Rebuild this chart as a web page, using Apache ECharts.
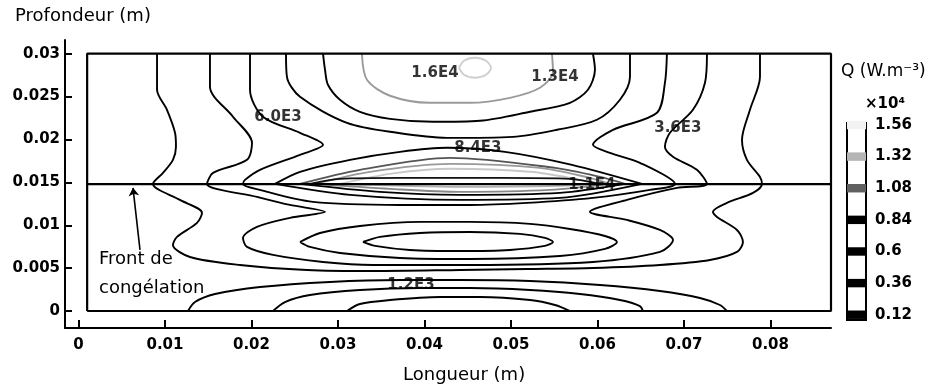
<!DOCTYPE html>
<html>
<head>
<meta charset="UTF-8">
<title>Q contours</title>
<script src="https://cdn.jsdelivr.net/npm/echarts@6/dist/echarts.min.js"></script>
<style>html,body{margin:0;padding:0;background:#fff}</style>
</head>
<body>
<div id="chart" style="width:929px;height:392px"></div>
<script>
// lengths are kept in mm, the axes print them in m
const xTicks = [0, 10, 20, 30, 40, 50, 60, 70, 80];
const yTicks = [0, 5, 10, 15, 20, 25, 30];
const barLevels = [0.12, 0.36, 0.6, 0.84, 1.08, 1.32, 1.56];
const barColors = ['#000', '#000', '#000', '#000', '#606060', '#b4b4b4', '#f2f2f2'];

const domainBox = [[1, 0], [87, 0], [87, 30], [1, 30], [1, 0]];
const frontLine = [[1, 14.8], [87, 14.8]];
const arrow = [[7.11, 7.12], [6.30, 14.36]];

// contour lines [x mm, y mm]
const loop1 = [[9.08,30],[9.08,25.8],[10.23,23.46],[11.16,20.78],[11.27,19.14],[10.92,17.63],[9.77,16.11],[8.61,14.82],
  [11.73,12.96],[14.28,11.44],[13.70,10.27],[11.39,8.64],[10.92,7.70],[12.89,6.30],[18.67,5.37],[26.42,4.79],[34.05,4.67],
  [44.10,4.79],[51.85,4.90],[59.48,5.02],[67.22,5.37],[73.01,5.95],[76.13,6.89],[76.82,8.05],[76.13,9.45],[73.82,10.97],
  [73.35,11.56],[74.97,12.61],[77.98,13.77],[79.02,14.82],[78.79,15.64],[77.28,17.63],[76.71,19.96],[77.63,23.46],[78.79,27.31],[78.79,30]];
const loop2 = [[15.20,30],[15.20,26.15],[17.86,22.65],[20.06,19.61],[19.48,17.63],[15.55,16.11],[14.86,14.82],
  [20.64,13.31],[24.45,12.37],[28.50,11.56],[24.45,10.86],[20.64,9.81],[19.02,8.52],[19.48,7.47],[22.49,6.54],[28.27,5.72],
  [34.05,5.37],[45.26,5.37],[59.48,5.72],[67.22,6.89],[68.73,8.29],[67.22,9.45],[63.41,10.62],[59.13,11.56],[63.41,12.96],
  [69.19,14.36],[72.66,14.82],[71.50,16.46],[68.73,17.98],[67.80,19.14],[68.38,20.78],[71.04,23.46],[72.43,26.61],[72.66,30]];
const loop3 = [[19.83,30],[19.83,25.8],[21.33,22.65],[25.61,20.78],[28.27,19.38],[25.61,18.21],[20.98,16.46],[19.25,15.29],[19.02,14.82],
  [20.98,14.12],[27.11,12.72],[37.17,12.37],[45.26,12.37],[51.85,12.61],[59.48,13.19],[66.07,14.12],[68.96,14.82],
  [64.91,17.28],[61.45,18.44],[59.48,19.38],[61.79,21.13],[66.88,23.11],[67.80,26.61],[68.03,30]];
const top6000 = [[23.99,30],[24.10,27.31],[25.61,24.98],[31.04,21.94],[36.82,20.78],[42.60,20.19],[50.23,20.31],[55.32,21.13],
  [59.94,22.30],[62.60,24.63],[63.76,27.31],[63.76,30]];
const top7200 = [[28.27,30],[28.50,28.13],[28.84,26.38],[30.23,24.63],[32.54,23.23],[36.01,22.41],[40.98,22.06],[46.42,22.18],
  [52.20,23.23],[56.82,24.28],[58.90,25.80],[59.71,28.13],[59.48,30]];
const top16000 = [[32.77,30],[33.35,26.96],[36.01,25.10],[40.64,24.28],[45.26,24.28],[49.88,24.86],[53.35,26.03],[54.86,27.90],[54.74,30]];
const topCore = [[43.99,28.36],[44.57,29.18],[45.84,29.53],[47.11,29.18],[47.69,28.36],[47.11,27.55],[45.84,27.20],[44.57,27.55],[43.99,28.36]];
const lensA = [[22.72,14.82],[25.61,16.23],[31.39,17.63],[37.17,18.56],[42.60,19.03],[49.31,18.56],[57.05,17.04],[65.14,14.82]];
const lensB = [[25.61,14.82],[32.54,16.46],[42.95,17.86],[55.09,16.69],[60.29,15.64],[63.18,14.82]];
const lensC = [[27.34,14.82],[33.70,16.23],[42.95,17.16],[53.35,16.69],[59.13,15.52],[61.45,14.82]];
const lensD = [[26.76,14.82],[30.23,15.41],[37.17,15.52],[48.73,15.52],[56.82,15.41],[60.29,14.82]];
const lensE = [[30.23,14.82],[36.01,15.99],[42.95,16.58],[52.20,16.23],[57.98,15.29],[59.71,14.82]];
const lowA = [[22.72,14.82],[31.39,13.54],[44.10,12.96],[55.66,13.19],[65.14,14.82]];
const lowB = [[25.61,14.82],[34.86,13.89],[44.10,13.54],[55.66,13.77],[63.18,14.82]];
const lowC = [[27.34,14.82],[36.01,14.24],[44.10,13.89],[54.51,14.12],[61.45,14.82]];
const lowD = [[30.23,14.82],[44.10,14.47],[55.66,14.59],[59.71,14.82]];
const ring2 = [[25.61,8.05],[27.92,9.10],[32.54,9.92],[39.48,10.39],[45.26,10.39],[52.20,10.16],[56.82,9.57],[60.87,8.75],
  [62.25,8.05],[60.87,7.24],[55.66,6.42],[45.26,6.07],[37.17,6.19],[30.23,6.77],[26.76,7.47],[25.61,8.05]];
const ring1 = [[32.89,8.05],[34.86,8.64],[39.48,9.10],[45.26,9.22],[51.04,8.99],[53.93,8.52],[54.86,8.05],[53.93,7.59],
  [49.88,7.12],[44.10,7.00],[38.32,7.12],[34.28,7.59],[32.89,8.05]];
const base1 = [[12.66,0],[13.47,1.05],[15.78,1.98],[20.98,2.80],[29.08,3.39],[37.17,3.62],[44.10,3.62],[52.20,3.50],
  [60.29,3.03],[67.22,2.33],[71.85,1.52],[74.16,0.70],[74.97,0]];
const base2 = [[22.49,0],[23.87,1.05],[26.76,1.87],[32.54,2.45],[39.48,2.68],[45.26,2.68],[52.20,2.45],[57.98,1.98],
  [62.60,1.28],[64.91,0.58],[65.26,0]];
const base3 = [[31.04,0],[32.54,0.82],[36.01,1.28],[41.79,1.63],[46.42,1.63],[52.20,1.28],[55.09,0.70],[56.82,0]];

const contourLabels = [
  ['1.6E4', 41.21, 27.78], ['1.3E4', 55.09, 27.31], ['6.0E3', 23.06, 22.65], ['8.4E3', 46.18, 19.03],
  ['3.6E3', 69.29, 21.36], ['1.1E4', 59.36, 14.71], ['1.2E3', 38.44, 3.03]
];

const contours = [
  [loop1, '#000'], [loop2, '#000'], [loop3, '#000'], [top6000, '#000'], [top7200, '#000'],
  [top16000, '#9a9a9a'], [topCore, '#cfcfcf'],
  [lensA, '#000'], [lensB, '#555'], [lensC, '#999'], [lensE, '#c8c8c8'], [lensD, '#111'],
  [lowA, '#000'], [lowB, '#000'], [lowC, '#888'], [lowD, '#b0b0b0'],
  [ring2, '#000'], [ring1, '#000'], [base1, '#000'], [base2, '#000'], [base3, '#000']
];

const toMetre = v => String(parseFloat((v / 1000).toFixed(4)));
const tickFont = { fontFamily: 'DejaVu Sans', fontWeight: 'bold', fontSize: 15, color: '#000' };

let myChart = echarts.init(document.getElementById('chart'));

let series = contours.map(c => ({
  type: 'line', data: c[0], symbol: 'none', smooth: 0.3, silent: true, z: 2,
  lineStyle: { color: c[1], width: 1.9 }
}));
series.push({
  type: 'line', data: domainBox, symbol: 'none', silent: true, z: 4,
  lineStyle: { color: '#000', width: 2.2 }
});
series.push({
  type: 'line', data: frontLine, symbol: 'none', silent: true, z: 4,
  lineStyle: { color: '#000', width: 2.2 }
});
series.push({
  type: 'lines', coordinateSystem: 'cartesian2d', silent: true, z: 5,
  symbol: ['none', 'arrow'], symbolSize: 8,
  data: [{ coords: arrow }],
  lineStyle: { color: '#000', width: 1.6, opacity: 1 }
});
series.push({
  type: 'scatter', symbolSize: 0, silent: true, z: 6,
  data: contourLabels.map(l => ({ name: l[0], value: [l[1], l[2]] })),
  label: { show: true, position: 'inside', formatter: '{b}', fontFamily: 'DejaVu Sans', fontWeight: 'bold', fontSize: 15, color: '#000' }
});
// colour bar bands
series.push({
  type: 'custom', xAxisIndex: 1, yAxisIndex: 1, silent: true, z: 5,
  data: barLevels.map(v => [0, v]),
  renderItem: (params, api) => {
    const lv = api.value(1);
    const p0 = api.coord([0, lv + 0.032]);
    const p1 = api.coord([1, lv - 0.032]);
    return {
      type: 'rect',
      shape: { x: p0[0], y: p0[1], width: p1[0] - p0[0], height: p1[1] - p0[1] },
      style: { fill: barColors[params.dataIndex], stroke: null }
    };
  }
});

myChart.setOption({
  animation: false,
  grid: [
    { left: 65, right: 98, top: 40, bottom: 64 },
    { left: 847, width: 19, top: 123, bottom: 72, show: true, borderColor: '#000', borderWidth: 2, backgroundColor: '#fff' }
  ],
  xAxis: [
    {
      type: 'value', min: -1.56, max: 87, gridIndex: 0,
      splitLine: { show: false },
      axisLine: { onZero: false, lineStyle: { color: '#000', width: 2 } },
      axisTick: { customValues: xTicks, inside: true, length: 8, lineStyle: { color: '#000', width: 2 } },
      axisLabel: Object.assign({ customValues: xTicks, margin: 10, formatter: toMetre }, tickFont)
    },
    { type: 'value', min: 0, max: 1, gridIndex: 1, show: false }
  ],
  yAxis: [
    {
      type: 'value', min: -1.98, max: 31.6, gridIndex: 0,
      splitLine: { show: false },
      axisLine: { onZero: false, lineStyle: { color: '#000', width: 2 } },
      axisTick: { customValues: yTicks, inside: true, length: 7, lineStyle: { color: '#000', width: 2 } },
      axisLabel: Object.assign({ customValues: yTicks, margin: 5, formatter: toMetre }, tickFont)
    },
    {
      type: 'value', min: 0.08, max: 1.575, gridIndex: 1, position: 'right',
      splitLine: { show: false }, axisLine: { show: false }, axisTick: { show: false },
      axisLabel: Object.assign({ customValues: barLevels, margin: 9 }, tickFont)
    }
  ],
  graphic: [
    { type: 'text', left: 15, top: 7, style: { text: 'Profondeur (m)', font: '18px "DejaVu Sans"', fill: '#000' } },
    { type: 'text', left: 403, top: 366, style: { text: 'Longueur (m)', font: '18px "DejaVu Sans"', fill: '#000' } },
    { type: 'text', left: 99, top: 250, style: { text: 'Front de', font: '18px "DejaVu Sans"', fill: '#000' } },
    { type: 'text', left: 99, top: 279, style: { text: 'congélation', font: '18px "DejaVu Sans"', fill: '#000' } },
    { type: 'text', left: 841, top: 63, style: { text: 'Q (W.m⁻³)', font: '17px "DejaVu Sans"', fill: '#000' } },
    { type: 'text', left: 865, top: 97, style: { text: '×10⁴', font: 'bold 15px "DejaVu Sans"', fill: '#000' } }
  ],
  series: series
});
</script>
</body>
</html>
